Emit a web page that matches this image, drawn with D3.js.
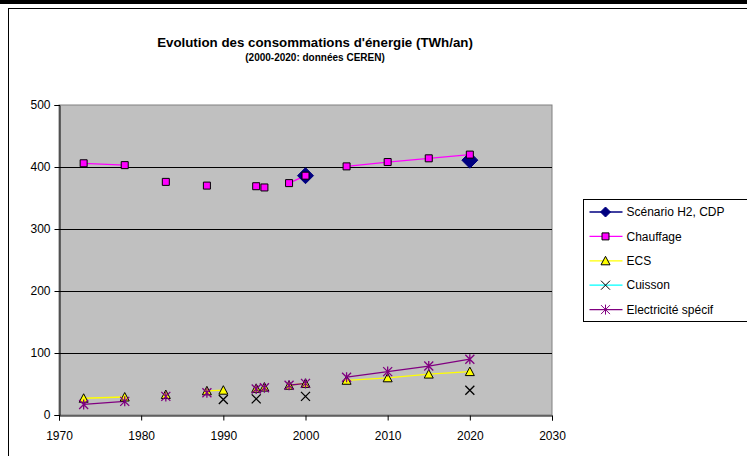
<!DOCTYPE html>
<html>
<head>
<meta charset="utf-8">
<script src="https://cdn.jsdelivr.net/npm/d3@7"></script>
<style>
  body { margin: 0; background: #fff; }
  #chart { width: 747px; height: 456px; }
  text { font-family: "Liberation Sans", Arial, sans-serif; fill: #000; }
</style>
</head>
<body>
<div id="chart"></div>
<script>
// years column of the sheet, null = blank row (breaks the lines)
var years = [1973, 1978, null, 1983, null, 1988, 1990, null, 1994, null, 1995, null, 1998, 2000, null, 2005, 2010, 2015, 2020];

var scenarioH2 = [null, null, null, null, null, null, null, null, null, null, null, null, null, 386, null, null, null, null, 411];
var chauffage  = [406, 403, null, 376, null, 370, null, null, 369, null, 367, null, 374, 386, null, 401, 408, 414, 420];
var ecs        = [27, 29, null, 33, null, 39, 40, null, 43, null, 45, null, 48, 51, null, 56, 60, 66, 70];
var cuisson    = [null, null, null, null, null, null, 25, null, 26, null, null, null, null, 30, null, null, null, null, 40];
var elec       = [17, 22, null, 30, null, 36, null, null, 42, null, 44, null, 48, 51, null, 61, 70, 79, 90];

var seriesNames = ['Scénario H2, CDP', 'Chauffage', 'ECS', 'Cuisson', 'Electricité spécif'];
var xTicks = [1970, 1980, 1990, 2000, 2010, 2020, 2030];
var yTicks = [0, 100, 200, 300, 400, 500];

var width = 747,
    height = 456,
    plot = {left: 59, top: 105, right: 552, bottom: 415};

var svg = d3.select('#chart').append('svg')
    .attr('width', width)
    .attr('height', height);

// frame
svg.append('rect').attr('x', 0).attr('y', 0).attr('width', width).attr('height', 4).attr('fill', '#000');
svg.append('rect')
    .attr('x', 8.5).attr('y', 8.5).attr('width', width + 10).attr('height', height + 10)
    .attr('fill', 'none').attr('stroke', '#000');

var x = d3.scaleLinear().domain([1970, 2030]).range([plot.left, plot.right]);
var y = d3.scaleLinear().domain([0, 500]).range([plot.bottom, plot.top]);

// plot area
svg.append('rect')
    .attr('x', plot.left).attr('y', plot.top)
    .attr('width', plot.right - plot.left).attr('height', plot.bottom - plot.top)
    .attr('fill', '#c0c0c0').attr('stroke', '#808080');

svg.append('g').selectAll('line')
    .data(yTicks.filter(function(d) { return d > 0 && d < 500; }))
    .enter().append('line')
    .attr('x1', plot.left).attr('x2', plot.right)
    .attr('y1', function(d) { return Math.round(y(d)) + 0.5; })
    .attr('y2', function(d) { return Math.round(y(d)) + 0.5; })
    .attr('stroke', '#000');

// axes
var yAxis = svg.append('g')
    .attr('transform', 'translate(' + (plot.left + 0.5) + ',0)')
    .call(d3.axisLeft(y).tickValues(yTicks).tickSize(5).tickPadding(4).tickFormat(d3.format('d')));
var xAxis = svg.append('g')
    .attr('transform', 'translate(0,' + (plot.bottom + 0.5) + ')')
    .call(d3.axisBottom(x).tickValues(xTicks).tickSize(5).tickPadding(11).tickFormat(d3.format('d')));
[yAxis, xAxis].forEach(function(a) {
    a.selectAll('path, line').attr('stroke', '#000');
    a.selectAll('text').attr('font-size', 12).attr('font-family', '"Liberation Sans", Arial, sans-serif').attr('fill', '#000');
});

// marker shapes
function markerPath(type) {
    if (type === 'diamond') return 'M0,-8L8,0L0,8L-8,0Z';
    if (type === 'square') return 'M-3.5,-3.5H3.5V3.5H-3.5Z';
    if (type === 'triangle') return 'M0,-4.5L4.5,4L-4.5,4Z';
    if (type === 'x') return 'M-4.5,-4.5L4.5,4.5M-4.5,4.5L4.5,-4.5';
    return 'M-4.5,-4.5L4.5,4.5M-4.5,4.5L4.5,-4.5M0,-5V5';
}

var series = [
    {name: seriesNames[0], values: scenarioH2, line: '#000080', marker: 'diamond', fill: '#000080', stroke: '#000080'},
    {name: seriesNames[1], values: chauffage, line: '#ff00ff', marker: 'square', fill: '#ff00ff', stroke: '#000'},
    {name: seriesNames[2], values: ecs, line: '#ffff00', marker: 'triangle', fill: '#ffff00', stroke: '#000'},
    {name: seriesNames[3], values: cuisson, line: '#00ffff', marker: 'x', fill: 'none', stroke: '#000'},
    {name: seriesNames[4], values: elec, line: '#800080', marker: 'star', fill: 'none', stroke: '#800080'}
];

var line = d3.line()
    .defined(function(d) { return d.year != null && d.value != null; })
    .x(function(d) { return x(d.year); })
    .y(function(d) { return y(d.value); });

series.forEach(function(s) {
    s.points = years.map(function(yr, i) { return {year: yr, value: s.values[i]}; });
});

// lines first, then markers
svg.append('g').selectAll('path')
    .data(series)
    .enter().append('path')
    .attr('d', function(s) { return line(s.points); })
    .attr('fill', 'none')
    .attr('stroke', function(s) { return s.line; })
    .attr('stroke-width', 1.3);

series.forEach(function(s) {
    svg.append('g').selectAll('path')
        .data(s.points.filter(function(d) { return d.year != null && d.value != null; }))
        .enter().append('path')
        .attr('transform', function(d) { return 'translate(' + x(d.year) + ',' + y(d.value) + ')'; })
        .attr('d', markerPath(s.marker))
        .attr('fill', s.fill)
        .attr('stroke', s.stroke)
        .attr('stroke-width', s.marker === 'x' || s.marker === 'star' ? 1.3 : 1);
});

// titles
svg.append('text')
    .attr('x', 315).attr('y', 47)
    .attr('text-anchor', 'middle')
    .attr('font-size', 13.3).attr('font-weight', 'bold')
    .text("Evolution des consommations d'énergie (TWh/an)");
svg.append('text')
    .attr('x', 315).attr('y', 61)
    .attr('text-anchor', 'middle')
    .attr('font-size', 10).attr('font-weight', 'bold')
    .text('(2000-2020: données CEREN)');

// legend
var legend = svg.append('g').attr('transform', 'translate(583.5,199.5)');
legend.append('rect')
    .attr('width', 200).attr('height', 122)
    .attr('fill', '#fff').attr('stroke', '#000');
var item = legend.selectAll('g.item')
    .data(series)
    .enter().append('g')
    .attr('class', 'item')
    .attr('transform', function(d, i) { return 'translate(0,' + (12.5 + i * 24.4) + ')'; });
item.append('line')
    .attr('x1', 6).attr('x2', 39)
    .attr('stroke', function(d) { return d.line; })
    .attr('stroke-width', 1.3);
item.append('path')
    .attr('transform', 'translate(22,0)')
    .attr('d', function(d) { return d.marker === 'diamond' ? 'M0,-5L5,0L0,5L-5,0Z' : markerPath(d.marker); })
    .attr('fill', function(d) { return d.fill; })
    .attr('stroke', function(d) { return d.stroke; })
    .attr('stroke-width', 1);
item.append('text')
    .attr('x', 43).attr('dy', '0.35em')
    .attr('font-size', 12)
    .text(function(d) { return d.name; });
</script>
</body>
</html>
